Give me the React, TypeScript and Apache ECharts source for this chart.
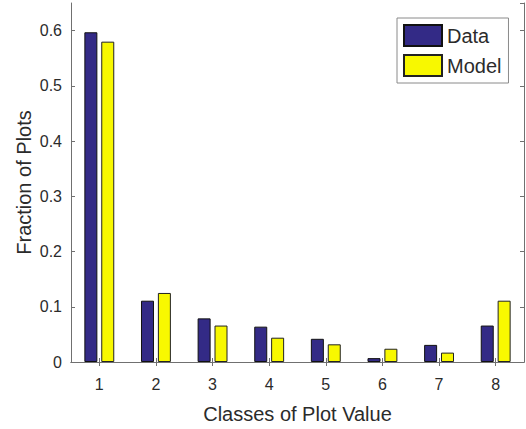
import React, { useEffect, useRef } from "react";
import * as echarts from "echarts";

const categories = ["1", "2", "3", "4", "5", "6", "7", "8"];
const dataValues = [0.597, 0.111, 0.079, 0.064, 0.042, 0.007, 0.031, 0.066];
const modelValues = [0.58, 0.125, 0.066, 0.044, 0.032, 0.024, 0.017, 0.111];
const seriesNames = ["Data", "Model"];

const axisColor = "#707070";
const textColor = "#2b2b2b";
const font = "Liberation Sans, Arial, sans-serif";

export default function App() {
  const ref = useRef<HTMLDivElement>(null);
  useEffect(() => {
    const chart = echarts.init(ref.current!, null, { renderer: "svg" });
    const common = {
      axisLine: { show: true, lineStyle: { color: axisColor, width: 1 } },
      axisTick: { show: true, inside: true, length: 4, lineStyle: { color: axisColor } },
      splitLine: { show: false },
    };
    chart.setOption({
      animation: false,
      backgroundColor: "#ffffff",
      textStyle: { fontFamily: font },
      grid: { left: 71, right: 2, top: 3, bottom: 63 },
      legend: {
        orient: "vertical",
        left: 397,
        top: 18,
        itemWidth: 38,
        itemHeight: 21,
        itemGap: 7,
        padding: [6, 7, 6, 6],
        borderColor: "#8a8a8a",
        borderWidth: 1,
        backgroundColor: "#ffffff",
        icon: "rect",
        textStyle: { fontSize: 20, color: textColor, fontFamily: font },
        data: seriesNames,
      },
      xAxis: [
        {
          type: "category",
          data: categories,
          ...common,
          axisTick: { ...common.axisTick, alignWithLabel: true },
          axisLabel: { color: textColor, fontSize: 16, margin: 14, fontFamily: font },
          name: "Classes of Plot Value",
          nameLocation: "middle",
          nameGap: 42,
          nameTextStyle: { color: textColor, fontSize: 20, fontFamily: font },
        },
        {
          type: "category",
          data: categories,
          position: "top",
          ...common,
          axisTick: { ...common.axisTick, alignWithLabel: true },
          axisLabel: { show: false },
        },
      ],
      yAxis: [
        {
          type: "value",
          min: 0,
          max: 0.65,
          interval: 0.1,
          ...common,
          axisLabel: {
            color: textColor,
            fontSize: 16,
            margin: 9,
            showMaxLabel: false,
            fontFamily: font,
            formatter: (v: number) => (v === 0 ? "0" : v.toFixed(1)),
          },
          name: "Fraction of Plots",
          nameLocation: "middle",
          nameGap: 37,
          nameMoveOverlap: false,
          nameTextStyle: { color: textColor, fontSize: 20, fontFamily: font },
        },
        {
          type: "value",
          min: 0,
          max: 0.65,
          interval: 0.1,
          position: "right",
          ...common,
          axisLabel: { show: false },
        },
      ],
      series: [
        {
          name: seriesNames[0],
          type: "bar",
          data: dataValues,
          barWidth: 13,
          barGap: "30%",
          itemStyle: { color: "#332a86", borderColor: "#111111", borderWidth: 1 },
        },
        {
          name: seriesNames[1],
          type: "bar",
          data: modelValues,
          barWidth: 13,
          barGap: "30%",
          itemStyle: { color: "#f8f800", borderColor: "#222222", borderWidth: 1 },
        },
      ],
    });
    return () => chart.dispose();
  }, []);
  return (
    <div
      ref={ref}
      style={{ position: "fixed", left: 0, top: 0, width: 526, height: 429 }}
    />
  );
}
